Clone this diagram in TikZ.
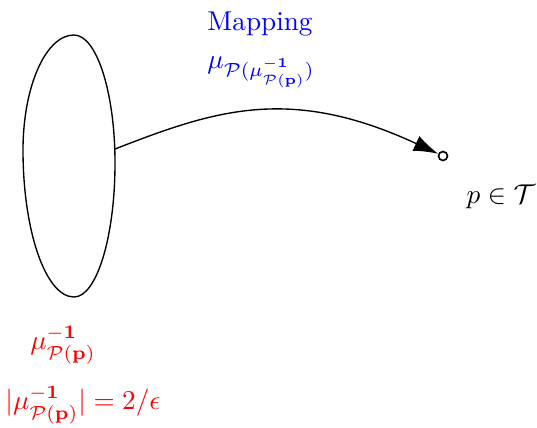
\documentclass[tikz,border=0pt]{standalone}
\usepackage{amsmath}
\usetikzlibrary{arrows.meta}
\begin{document}
\begin{tikzpicture}[x=0.3676pt,y=-0.3676pt,
  lbl/.style={inner sep=0pt},
  blob/.style={draw,line width=0.5pt},
  endpt/.style={circle,draw,line width=0.6pt,inner sep=0pt,minimum size=3.3pt},
  maparrow/.style={-{Latex[length=9pt,width=6pt]},line width=0.5pt}]
\useasboundingbox (0,0) rectangle (537,427);
% the set (egg-shaped closed curve)
\draw[blob] (74,35) .. controls (96.6,35) and (115,92.3) .. (115,163)
  .. controls (115,237) and (96.6,297) .. (74,297)
  .. controls (45.8,297) and (23,231.2) .. (23,150)
  .. controls (23,86.5) and (45.8,35) .. cycle;
\coordinate (start) at (115,149);
\node[endpt] (p) at (443,156) {};
\draw[maparrow] (start) .. controls (215,110) and (290,85) .. (p);
\node[lbl,text=blue] (maplbl) at (260,24) {Mapping};
\node[lbl,text=blue] (mulbl) at (261,72) {$\mu_{\mathcal{P}(\mu^{\mathbf{-1}}_{\mathcal{P}(\mathbf{p})})}$};
\node[lbl] (plbl) at (501,197) {$p\in\mathcal{T}$};
\node[lbl,text=red] (inv) at (63,345) {$\mu^{\mathbf{-1}}_{\mathcal{P}(\mathbf{p})}$};
\node[lbl,text=red] (card) at (83,405) {$|\mu^{\mathbf{-1}}_{\mathcal{P}(\mathbf{p})}| = 2/\epsilon$};
\end{tikzpicture}
\end{document}
